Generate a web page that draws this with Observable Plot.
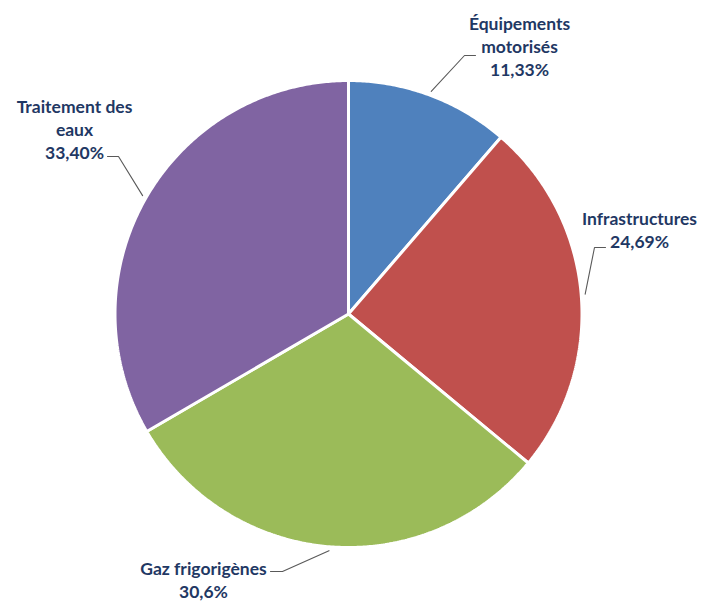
<!DOCTYPE html>
<html>
<head>
<meta charset="utf-8">
<script src="https://cdn.jsdelivr.net/npm/d3@7"></script>
<script src="https://cdn.jsdelivr.net/npm/@observablehq/plot@0.6"></script>
<style>
  html, body { margin: 0; padding: 0; background: #fff; }
</style>
</head>
<body>
<div id="chart"></div>
<script>
// ---- data ----
const categories = ["Équipements motorisés", "Infrastructures", "Gaz frigorigènes", "Traitement des eaux"];
const labelLines = [["Équipements", "motorisés"], ["Infrastructures"], ["Gaz frigorigènes"], ["Traitement des", "eaux"]];
const values = [11.33, 24.69, 30.6, 33.40];
const valueLabels = ["11,33%", "24,69%", "30,6%", "33,40%"];
const colors = ["#4F81BD", "#C0504D", "#9BBB59", "#8064A2"];

// ---- layout (pixels) ----
const W = 701, H = 603;
const cx = 348, cy = 313.5, R = 233.5;
// label block centres and leader elbow / end points
const labelLayout = [
  {lx: 519, ly: 45, elbow: [464, 55], end: [475, 55]},
  {lx: 639, ly: 229, elbow: [594, 247], end: [605, 247]},
  {lx: 203, ly: 579, elbow: [282, 571], end: [270, 571]},
  {lx: 74, ly: 128, elbow: [118, 156], end: [107, 156]}
];

const total = d3.sum(values);
let acc = 0;
const slices = categories.map((name, i) => {
  const a0 = acc / total * 2 * Math.PI;
  acc += values[i];
  const a1 = acc / total * 2 * Math.PI;
  return {name, i, a0, a1, mid: (a0 + a1) / 2};
});

const px = (a, r) => cx + r * Math.sin(a);
const py = (a, r) => cy - r * Math.cos(a);

// polygon points for each wedge
const wedgePts = [];
for (const s of slices) {
  wedgePts.push({name: s.name, x: cx, y: cy});
  const n = Math.max(8, Math.ceil((s.a1 - s.a0) / (Math.PI / 360)));
  for (let k = 0; k <= n; k++) {
    const a = s.a0 + (s.a1 - s.a0) * k / n;
    wedgePts.push({name: s.name, x: px(a, R), y: py(a, R)});
  }
  wedgePts.push({name: s.name, x: cx, y: cy});
}

// leader lines
const leaderPts = [];
slices.forEach((s, i) => {
  const L = labelLayout[i];
  leaderPts.push({name: s.name, x: px(s.mid, R + 4), y: py(s.mid, R + 4)});
  leaderPts.push({name: s.name, x: L.elbow[0], y: L.elbow[1]});
  leaderPts.push({name: s.name, x: L.end[0], y: L.end[1]});
});

const labels = slices.map((s, i) => ({
  name: s.name,
  text: [...labelLines[i], valueLabels[i]].join("\n"),
  x: labelLayout[i].lx,
  y: labelLayout[i].ly
}));

const chart = Plot.plot({
  width: W,
  height: H,
  margin: 0,
  style: {background: "#fff"},
  x: {domain: [0, W], range: [0, W], axis: null},
  y: {domain: [0, H], range: [0, H], axis: null},
  color: {domain: categories, range: colors},
  marks: [
    Plot.line(wedgePts, {
      x: "x", y: "y", z: "name", fill: "name",
      stroke: "white", strokeWidth: 3, strokeLinejoin: "miter", curve: "linear"
    }),
    Plot.line(leaderPts, {
      x: "x", y: "y", z: "name", stroke: "#595959", strokeWidth: 1.1, curve: "linear"
    }),
    Plot.text(labels, {
      x: "x", y: "y", text: "text",
      textAnchor: "middle", lineAnchor: "middle", lineHeight: 1.32,
      fontFamily: "Lato", fontWeight: "bold", fontSize: 17.5, fill: "#1F3864"
    })
  ]
});

document.getElementById("chart").appendChild(chart);
</script>
</body>
</html>
